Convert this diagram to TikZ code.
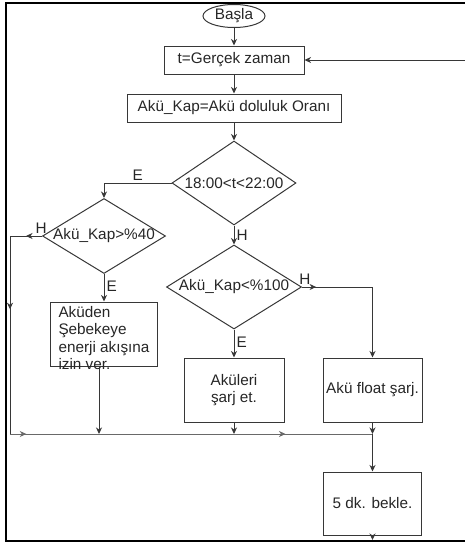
\documentclass[tikz,border=0pt]{standalone}
\usepackage{fontspec}
\setmainfont{Liberation Sans}
\usetikzlibrary{shapes.geometric, arrows.meta, positioning, decorations.markings}
\definecolor{linecolor}{RGB}{55,55,55}
\definecolor{buscolor}{RGB}{105,105,105}

\begin{document}
\begin{tikzpicture}[
    x=1pt, y=1pt,
    >={Stealth[length=6.5pt, width=6pt, inset=2pt]},
    every node/.style={font=\fontsize{15.3}{17.5}\selectfont, text=black!85},
    terminal/.style={ellipse, draw=linecolor, line width=1pt, minimum width=62pt, minimum height=23pt, inner sep=0pt},
    process/.style={rectangle, draw=linecolor, line width=1pt, minimum height=28pt, inner sep=2pt},
    decision/.style={diamond, draw=linecolor, line width=1pt, inner sep=0pt},
    lbl/.style={inner sep=2pt},
    arrow/.style={->, draw=linecolor, line width=1pt},
    flow/.style={draw=linecolor, line width=1pt},
    midarrow/.style={postaction={decorate, decoration={markings, mark=at position #1 with {\arrow{>}}}}},
    pageframe/.style={line width=2.5pt},
    node distance=18pt
]
    \useasboundingbox (0,0) rectangle (465,-547);

    % Main column
    \node[terminal] (start) at (234,-16) {Başla};
    \node[process, below=17.5pt of start, minimum width=140pt] (clock) {t=Gerçek zaman};
    \node[process, below=19pt of clock, minimum width=214pt] (level) {Akü\_Kap=Akü doluluk Oranı};
    \node[decision, below=18pt of level, minimum width=124pt, minimum height=84pt] (timecheck) {\makebox[0pt]{18:00<t<22:00}};
    \node[decision, below=19pt of timecheck, minimum width=135pt, minimum height=84pt] (fullcheck) {\makebox[0pt]{Akü\_Kap<\%100}};
    \node[process, below=28pt of fullcheck, minimum width=100pt, minimum height=64pt, align=center] (charge) {Aküleri\\şarj et.};
    \node[process, right=38pt of charge, minimum width=99pt, minimum height=64pt] (float) {Akü float şarj.};
    \node[process, below=49pt of float, minimum width=98pt, minimum height=63pt] (wait) {5 dk. bekle.};

    % Left branch
    \node[decision, below=75.5pt of level, xshift=-130pt, minimum width=123pt, minimum height=75pt] (levelcheck) {\makebox[0pt]{Akü\_Kap>\%40}};
    \node[process, below=27.5pt of levelcheck, minimum width=107pt, minimum height=64pt, inner ysep=0pt, text height=41.8pt, text depth=22.2pt] (grid) {
        \begin{tabular}{@{}l@{}}
        Aküden\\
        Şebekeye\\
        enerji akışına\\
        izin ver.
        \end{tabular}
    };

    % Frame
    \draw[pageframe] (465,-3) -- (6,-3) -- (6,-541) -- (465,-541);
    \coordinate (edge) at (465,0);
    \coordinate (bottom) at (0,-540);
    \coordinate (busL) at (10,-434);
    \coordinate (busR) at (float.south |- busL);

    % Flow
    \draw[arrow] (start) -- (clock);
    \draw[arrow] (clock) -- (level);
    \draw[arrow] (level) -- (timecheck);
    \draw[arrow] (timecheck.west) -| node[lbl, pos=0.25, above] {E} (levelcheck.north);
    \draw[arrow] (timecheck.south) -- node[lbl, right] {H} (fullcheck.north);
    \draw[arrow] (levelcheck.south) -- node[lbl, right, pos=0.45] {E} (grid.north);
    \draw[arrow] (fullcheck.south) -- node[lbl, right, pos=0.45] {E} (charge.north);
    \draw[arrow, midarrow=0.1] (fullcheck.east) -| node[lbl, pos=0.02, above] {H} (float.north);

    % Return and collecting line
    \draw[flow, midarrow=0.5] (levelcheck.west) -- node[lbl, pos=0.03, above] {H} (levelcheck.west -| busL);
    \draw[flow, midarrow=0.37] (levelcheck.west -| busL) -- (busL);
    \draw[flow, draw=buscolor, midarrow=0.045, midarrow=0.76] (busL) -- (busR);
    \draw[arrow] ([xshift=-5pt]grid.south) -- ([xshift=-5pt]grid.south |- busL);
    \draw[arrow] (charge.south) -- (charge.south |- busL);
    \draw[arrow] (float) -- (busR);
    \draw[arrow] (busR) -- (wait);
    \draw[arrow] (wait) -- (wait.south |- bottom);
    \draw[arrow] (clock.east -| edge) -- (clock);

\end{tikzpicture}
\end{document}
